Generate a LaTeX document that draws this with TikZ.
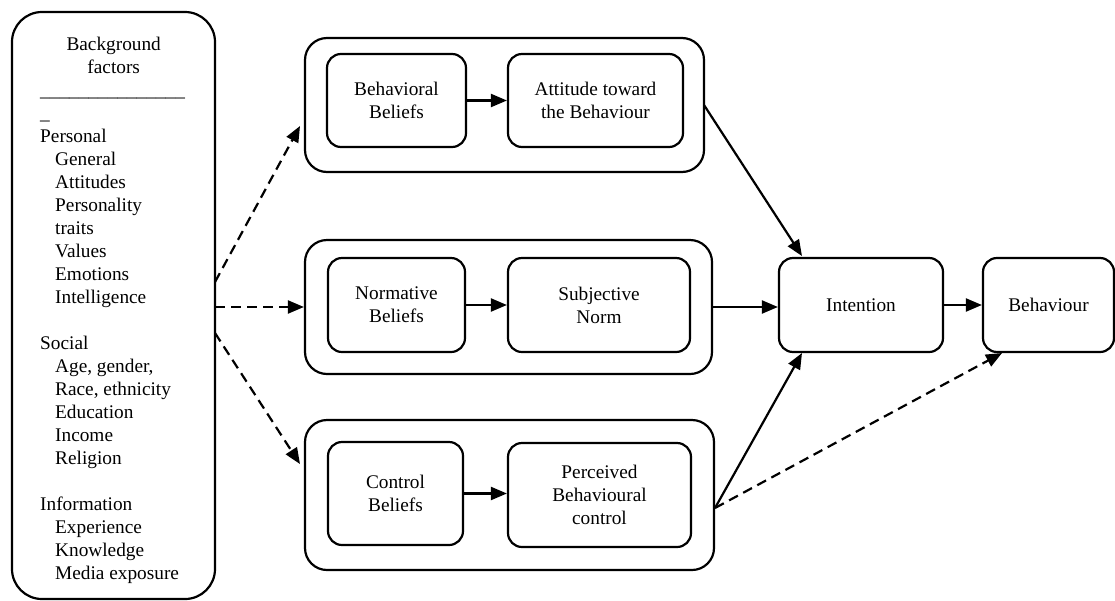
\documentclass[tikz,border=0pt]{standalone}
\usepackage{fontspec}
\setmainfont{Liberation Serif}
\usetikzlibrary{arrows.meta}
\begin{document}
\begin{tikzpicture}[x=1pt,y=-1pt,
  every node/.style={font=\fontsize{19.3}{23}\selectfont},
  box/.style={draw, line width=2.2pt, rounded corners=14pt, align=center, inner sep=0pt},
  group/.style={draw, line width=2.2pt, rounded corners=22pt, inner sep=0pt},
  flow/.style={line width=2.2pt, -{Triangle[length=16pt,width=13pt]}},
  dflow/.style={flow, dash pattern=on 10pt off 6pt},
]
\useasboundingbox (0,0) rectangle (1115,600);

% background factors panel
\node[draw, line width=2.2pt, rounded corners=30pt, minimum width=203pt, minimum height=587pt] (bg) at (113.5,305.5) {};
\node[anchor=north west, align=left, inner sep=0pt] (bglist) at (40,37) {%
\makebox[147pt][c]{Background}\\
\makebox[147pt][c]{factors}\\
\_\_\_\_\_\_\_\_\_\_\_\_\_\_\_\\
\_\\
Personal\\
\hspace*{15pt}General\\
\hspace*{15pt}Attitudes\\
\hspace*{15pt}Personality\\
\hspace*{15pt}traits\\
\hspace*{15pt}Values\\
\hspace*{15pt}Emotions\\
\hspace*{15pt}Intelligence\\
\mbox{}\\
Social\\
\hspace*{15pt}Age, gender,\\
\hspace*{15pt}Race, ethnicity\\
\hspace*{15pt}Education\\
\hspace*{15pt}Income\\
\hspace*{15pt}Religion\\
\mbox{}\\
Information\\
\hspace*{15pt}Experience\\
\hspace*{15pt}Knowledge\\
\hspace*{15pt}Media exposure};

% belief groups
\node[group, minimum width=399pt, minimum height=134pt] (g1) at (504.5,105) {};
\node[group, minimum width=407pt, minimum height=134pt] (g2) at (508.5,307) {};
\node[group, minimum width=409pt, minimum height=150pt] (g3) at (509.5,495) {};

\node[box, minimum width=139pt, minimum height=93pt] (bb) at (396.5,100.5) {Behavioral\\Beliefs};
\node[box, minimum width=175pt, minimum height=93pt] (att) at (595.5,100.5) {Attitude toward\\the Behaviour};
\node[box, minimum width=137pt, minimum height=94pt] (nb) at (396.5,305) {Normative\\Beliefs};
\node[box, minimum width=182pt, minimum height=94pt] (sn) at (599,305) {Subjective\\Norm};
\node[box, minimum width=135pt, minimum height=103pt] (cb) at (395.5,493.5) {Control\\Beliefs};
\node[box, minimum width=183pt, minimum height=104pt] (pbc) at (599.5,495) {Perceived\\Behavioural\\control};

\node[box, minimum width=164pt, minimum height=94pt] (int) at (861,305) {Intention};
\node[box, minimum width=131pt, minimum height=94pt] (beh) at (1048.5,305) {Behaviour};

% connector end points
\coordinate (d1s) at (215,282);
\coordinate (d1e) at (300,126);
\coordinate (d2s) at (215,307);
\coordinate (d3s) at (215,333);
\coordinate (d3e) at (300,464);
\coordinate (t1s) at (704,105);
\coordinate (t1e) at (802,256);
\coordinate (t3s) at (715,508);
\coordinate (t3e) at (802,353);
\coordinate (bhe) at (1002,353);

% dashed links from background factors
\draw[dflow] (d1s) -- (d1e);
\draw[dflow] (d2s) -- (d2s -| g2.west);
\draw[dflow] (d3s) -- (d3e);

% links inside the groups
\draw[flow] (bb) -- (att);
\draw[flow] (nb) -- (sn);
\draw[flow] (cb.east) -- (cb.east -| pbc.west);

% links to intention and behaviour
\draw[flow] (t1s) -- (t1e);
\draw[flow] (g2.east) -- (g2.east -| int.west);
\draw[flow] (t3s) -- (t3e);
\draw[flow] (int) -- (beh);
\draw[dflow] (t3s) -- (bhe);
\end{tikzpicture}
\end{document}
